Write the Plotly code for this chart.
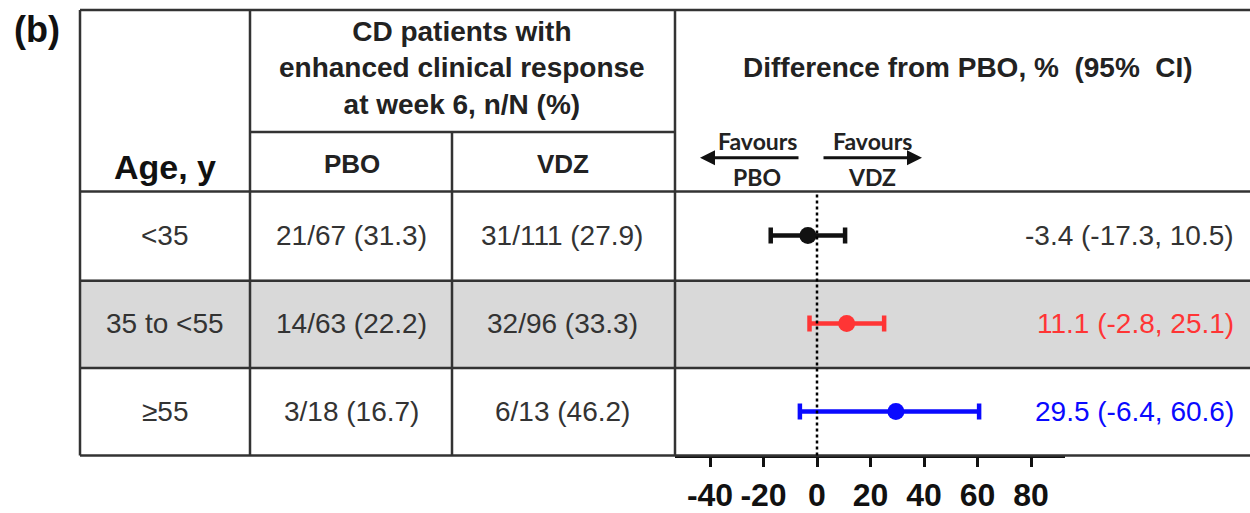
import plotly.graph_objects as go

# ---------------- data ----------------
age_groups = ["<35", "35 to <55", "≥55"]
pbo_text = ["21/67 (31.3)", "14/63 (22.2)", "3/18 (16.7)"]
vdz_text = ["31/111 (27.9)", "32/96 (33.3)", "6/13 (46.2)"]
diff = [-3.4, 11.1, 29.5]
ci_low = [-17.3, -2.8, -6.4]
ci_high = [10.5, 25.1, 60.6]
row_colors = ["#111111", "#ff3535", "#0a0aff"]
row_pos = [2.5, 1.5, 0.5]
tick_vals = [-40, -20, 0, 20, 40, 60, 80]
tick_text = ["-40", "-20", "0", "20", "40", "60", "80"]

W, H = 1250, 513
FONT = "Liberation Sans, Arial, sans-serif"


def X(px):
    return px / W


def Y(py):
    return 1 - py / H


fig = go.Figure()

# forest points
for i in range(len(diff)):
    fig.add_trace(go.Scatter(
        x=[diff[i]], y=[row_pos[i]], mode="markers",
        marker=dict(size=17, color=row_colors[i]),
        error_x=dict(type="data", symmetric=False,
                     array=[ci_high[i] - diff[i]],
                     arrayminus=[diff[i] - ci_low[i]],
                     color=row_colors[i], thickness=4.5, width=8),
        showlegend=False, hoverinfo="skip"))

shapes = []
# grey row background
shapes.append(dict(type="rect", xref="paper", yref="y", x0=X(80), x1=1, y0=1, y1=2,
                   fillcolor="#d9d9d9", line=dict(width=0), layer="below"))
LC = "#333333"
LW = 2.5
hlines = [(10, 80, 1250), (133, 250, 675), (193, 80, 1250), (283, 80, 1250),
          (371, 80, 1250), (459, 80, 1250)]
for yy, xa, xb in hlines:
    shapes.append(dict(type="line", xref="paper", yref="paper", x0=X(xa), x1=X(xb),
                       y0=Y(yy), y1=Y(yy), line=dict(color=LC, width=LW)))
vlines = [(80, 10, 459), (250, 10, 459), (452, 133, 459), (675, 10, 459)]
for xx, ya, yb in vlines:
    shapes.append(dict(type="line", xref="paper", yref="paper", x0=X(xx), x1=X(xx),
                       y0=Y(ya), y1=Y(yb), line=dict(color=LC, width=LW)))
# zero reference line
shapes.append(dict(type="line", xref="x", yref="paper", x0=0, x1=0, y0=Y(459), y1=Y(193),
                   line=dict(color="black", width=2.5, dash="dot")))

ann = []


def txt(s, px, py, size, bold=False, color="#222222", xanchor="center", family=FONT, yref="paper", yv=None):
    ann.append(dict(text=f"<b>{s}</b>" if bold else s, x=X(px), xref="paper",
                    y=Y(py) if yv is None else yv, yref=yref,
                    showarrow=False, xanchor=xanchor, yanchor="middle",
                    font=dict(size=size, color=color, family=family)))


txt("(b)", 37, 30, 36, bold=True, color="#111111")
txt("CD patients with<br>enhanced clinical response<br>at week 6, n/N (%)", 462, 69, 28, bold=True)
txt("Age, y", 165, 168, 34, bold=True, color="#111111")
txt("PBO", 352, 165, 26, bold=True)
txt("VDZ", 563, 165, 26, bold=True)
txt("Difference from PBO, %  (95%  CI)", 968, 68, 28, bold=True)
txt("Favours", 757, 142, 23, bold=True, family="Lato, sans-serif")
txt("PBO", 757, 178, 23, bold=True, family="Lato, sans-serif")
txt("Favours", 872, 142, 23, bold=True, family="Lato, sans-serif")
txt("VDZ", 872, 178, 23, bold=True, family="Lato, sans-serif")

# arrows
ann.append(dict(x=X(700), y=Y(159), xref="paper", yref="paper", ax=100, ay=0,
                axref="pixel", ayref="pixel", text="", showarrow=True,
                arrowhead=2, arrowsize=1, arrowwidth=3, arrowcolor="#111111"))
ann.append(dict(x=X(922), y=Y(159), xref="paper", yref="paper", ax=-100, ay=0,
                axref="pixel", ayref="pixel", text="", showarrow=True,
                arrowhead=2, arrowsize=1, arrowwidth=3, arrowcolor="#111111"))

for i in range(len(age_groups)):
    txt(age_groups[i], 165, 0, 28, yref="y", yv=row_pos[i], color="#333333")
    txt(pbo_text[i], 351, 0, 28, yref="y", yv=row_pos[i], color="#333333")
    txt(vdz_text[i], 562, 0, 28, yref="y", yv=row_pos[i], color="#333333")
    lab = f"{diff[i]} ({ci_low[i]}, {ci_high[i]})"
    col = "#333333" if i == 0 else row_colors[i]
    txt(lab, 1236, 0, 28, yref="y", yv=row_pos[i], color=col, xanchor="right")

x0px, x1px, zero_px, ppu = 675, 1065, 817, 2.675
fig.update_layout(
    width=W, height=H, margin=dict(l=0, r=0, t=0, b=0),
    paper_bgcolor="white", plot_bgcolor="rgba(0,0,0,0)",
    shapes=shapes, annotations=ann,
    xaxis=dict(domain=[X(x0px), X(x1px)],
               range=[(x0px - zero_px) / ppu, (x1px - zero_px) / ppu],
               tickvals=tick_vals, ticktext=tick_text, showgrid=False, zeroline=False,
               showline=True, linecolor="#111111", linewidth=2.5,
               ticks="outside", ticklen=9, tickwidth=2.5, tickcolor="#111111",
               tickfont=dict(size=32, family=FONT, color="#111111", weight="bold"),
               fixedrange=True),
    yaxis=dict(domain=[Y(459), Y(193)], range=[0, 3], visible=False, fixedrange=True),
    font=dict(family=FONT),
)

fig.write_html("out.html")
